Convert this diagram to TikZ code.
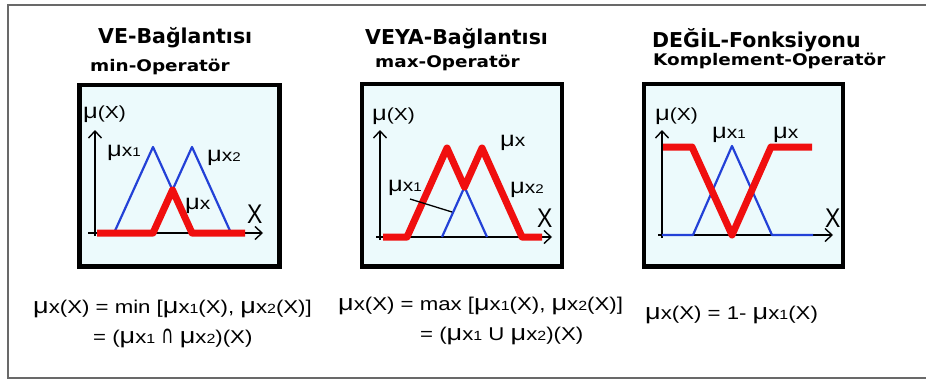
\documentclass[tikz,border=0pt]{standalone}
\usepackage{fontspec}
\usepackage{graphicx}
\setmainfont{Liberation Sans}
\newfontfamily\ttlfont{DejaVu Sans}
\newfontfamily\subfont[FakeStretch=1.15]{DejaVu Sans}
\newfontfamily\lblfont[FakeStretch=1.2]{Liberation Sans}
\newfontfamily\xfont[FakeStretch=0.85]{Liberation Sans}
\newfontfamily\capfont{DejaVu Sans}
\usetikzlibrary{arrows.meta}
\definecolor{boxfill}{RGB}{236,250,252}
\definecolor{fblue}{RGB}{35,65,215}
\definecolor{fred}{RGB}{240,15,15}
\definecolor{framegray}{RGB}{105,105,105}
\newcommand{\mug}{\scalebox{1.22}{μ}}
\newcommand{\mux}[1]{\mug x\scalebox{0.72}{#1}}
\newcommand{\capsym}{\scalebox{0.9}[1.35]{\capfont ∩}}
\begin{document}
\begin{tikzpicture}[x=1pt,y=-1pt,
  panel/.style={draw=black,line width=4.5pt,fill=boxfill},
  axis/.style={line width=1.4pt,-{Straight Barb[length=7pt,width=13pt,line width=1.4pt]}},
  blueline/.style={draw=fblue,line width=2.2pt,line join=round},
  redline/.style={draw=fred,line width=7pt,line join=round},
  leader/.style={draw=black,line width=1.3pt},
  ttl/.style={inner sep=0pt,anchor=base west,font=\ttlfont\bfseries\fontsize{20.5}{20.5}\selectfont},
  subttl/.style={inner sep=0pt,anchor=base west,font=\subfont\bfseries\fontsize{16}{16}\selectfont},
  lbl/.style={inner sep=0pt,anchor=base west,font=\lblfont\fontsize{17.5}{17.5}\selectfont},
  xlbl/.style={inner sep=0pt,anchor=base west,font=\xfont\fontsize{27}{27}\selectfont},
  formula/.style={inner sep=0pt,anchor=base west,font=\lblfont\fontsize{18.5}{18.5}\selectfont}]
\useasboundingbox (0,0) rectangle (926,380);
\fill[white] (0,0) rectangle (926,380);
\draw[framegray,line width=2pt] (926,5) -- (8,5) -- (8,378) -- (926,378);

% ---------- Panel 1 ----------
\node[ttl] (t1) at (98,43) {VE-Bağlantısı};
\node[subttl] (s1) at (90,71) {min-Operatör};
\draw[panel] (79.5,85) rectangle (279.5,266.5);
\draw[axis] (95,236) -- (95,130);
\draw[axis] (88,233) -- (263,233);
\draw[blueline] (114,233) -- (153,147) -- (192,233);
\draw[blueline] (153,233) -- (192,147) -- (231,233);
\draw[redline] (97,233) -- (153,233) -- (172.5,190) -- (192,233) -- (245,233);
\node[lbl] (m1) at (83,118) {\mug(X)};
\node[lbl] (a1) at (107,156) {\mux{1}};
\node[lbl] (b1) at (207,161) {\mux{2}};
\node[lbl] (c1) at (185,209) {\mug x};
\node[xlbl] (x1) at (247,223) {X};
\node[formula] (f1a) at (33,313) {\mug x(X) = min [\mux{1}(X), \mux{2}(X)]};
\node[formula] (f1b) at (93,343) {= (\mux{1} \capsym{} \mux{2})(X)};

% ---------- Panel 2 ----------
\node[ttl] (t2) at (365,44) {VEYA-Bağlantısı};
\node[subttl] (s2) at (375,67) {max-Operatör};
\draw[panel] (362,84) rectangle (562,266.5);
\draw[axis] (380,240) -- (380,130);
\draw[axis] (376,237) -- (552,237);
\draw[blueline] (442,237) -- (464.5,187) -- (487,237);
\draw[redline] (383,237) -- (407,237) -- (447,148) -- (464.5,187) -- (482,148) -- (522,237) -- (542,237);
\node[lbl] (m2) at (372,120) {\mug(X)};
\node[lbl] (a2) at (388,191) {\mux{1}};
\node[lbl] (c2) at (500,146) {\mug x};
\node[lbl] (b2) at (510,193) {\mux{2}};
\node[xlbl] (x2) at (537,227) {X};
\coordinate (l2a) at (410,199);
\coordinate (l2b) at (452,212);
\draw[leader] (l2a) -- (l2b);
\node[formula] (f2a) at (338,310) {\mug x(X) = max [\mux{1}(X), \mux{2}(X)]};
\node[formula] (f2b) at (420,340) {= (\mux{1} U \mux{2})(X)};

% ---------- Panel 3 ----------
\node[ttl] (t3) at (652,47) {DEĞİL-Fonksiyonu};
\node[subttl] (s3) at (653,65) {Komplement-Operatör};
\draw[panel] (644,84) rectangle (843,266.5);
\draw[axis] (662,238) -- (662,130);
\draw[axis] (658,235) -- (833,235);
\draw[blueline] (662,235) -- (693,235) -- (732,146) -- (772,235) -- (813,235);
\draw[redline] (663,147) -- (692,147) -- (732,235) -- (771,147) -- (812,147);
\node[lbl] (m3) at (655,120) {\mug(X)};
\node[lbl] (a3) at (712,138) {\mux{1}};
\node[lbl] (c3) at (773,138) {\mug x};
\node[xlbl] (x3) at (825,227) {X};
\node[formula] (f3) at (645,319) {\mug x(X) = 1- \mux{1}(X)};
\end{tikzpicture}
\end{document}
